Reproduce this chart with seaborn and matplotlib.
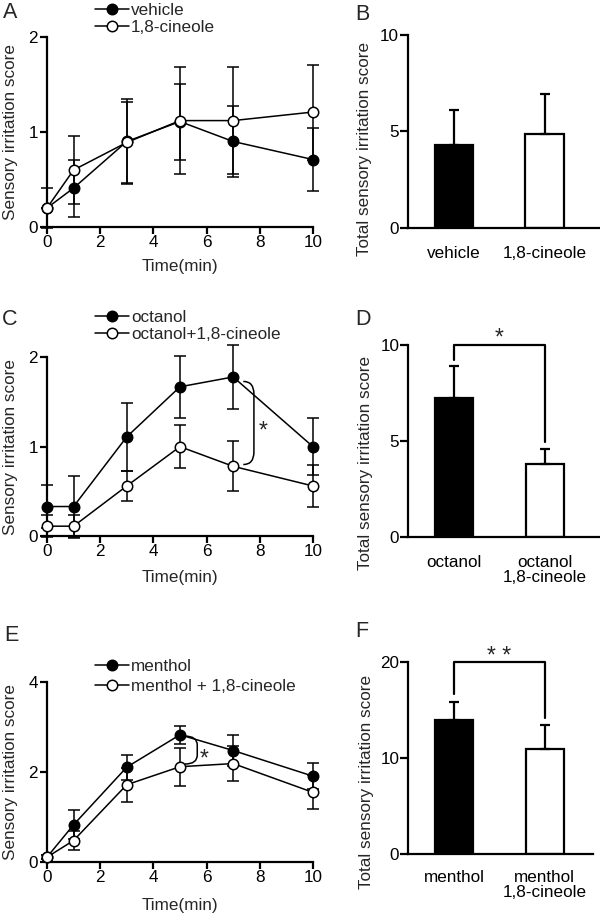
import numpy as np
import pandas as pd
import seaborn as sns
import matplotlib.pyplot as plt
from matplotlib.path import Path
from matplotlib.patches import PathPatch

sns.set_style('ticks')
plt.rcParams.update({'font.family': ['Liberation Sans', 'DejaVu Sans'],
                     'font.size': 12.3,
                     'axes.linewidth': 1.6,
                     'axes.edgecolor': 'black',
                     'xtick.major.width': 1.6, 'ytick.major.width': 1.6,
                     'xtick.major.size': 5, 'ytick.major.size': 5,
                     'xtick.color': 'black', 'ytick.color': 'black',
                     'xtick.labelsize': 12.3, 'ytick.labelsize': 12.3,
                     'axes.labelsize': 12.3})

# Time course (min)
time = [0, 1, 3, 5, 7, 10]

# A: vehicle vs 1,8-cineole
vehicle_mean = [0.2, 0.41, 0.9, 1.11, 0.9, 0.71]
vehicle_sem = [0.21, 0.3, 0.45, 0.4, 0.37, 0.33]
cineole_mean = [0.2, 0.6, 0.89, 1.12, 1.12, 1.21]
cineole_sem = [0.0, 0.36, 0.43, 0.56, 0.56, 0.5]

# C: octanol vs octanol+1,8-cineole
octanol_mean = [0.33, 0.33, 1.11, 1.67, 1.78, 1.0]
octanol_sem = [0.24, 0.34, 0.38, 0.35, 0.36, 0.32]
oct_cin_mean = [0.11, 0.11, 0.56, 1.0, 0.78, 0.56]
oct_cin_sem = [0.12, 0.13, 0.17, 0.24, 0.28, 0.24]

# E: menthol vs menthol + 1,8-cineole
menthol_mean = [0.1, 0.82, 2.1, 2.82, 2.47, 1.9]
menthol_sem = [0.05, 0.32, 0.28, 0.2, 0.35, 0.29]
men_cin_mean = [0.1, 0.47, 1.71, 2.11, 2.18, 1.54]
men_cin_sem = [0.05, 0.22, 0.38, 0.42, 0.38, 0.38]

# B, D, F: total scores
b_groups = ['vehicle', '1,8-cineole']
b_mean = [4.28, 4.88]
b_err = [1.82, 2.07]
d_groups = ['octanol', 'octanol\n1,8-cineole']
d_mean = [7.25, 3.78]
d_err = [1.65, 0.8]
f_groups = ['menthol', 'menthol\n1,8-cineole']
f_mean = [13.95, 10.95]
f_err = [1.9, 2.45]

fig = plt.figure(figsize=(6, 9.15), dpi=100)


def line_panel(ax, series, ymax, legend_top, spacing=0.1):
    for mean, sem, label, face in series:
        ax.errorbar(time, mean, yerr=sem, fmt='none', ecolor='black', elinewidth=1.1,
                    capsize=4.2, capthick=1.1, clip_on=False, zorder=2)
        sns.lineplot(x=time, y=mean, ax=ax, color='black', linewidth=1.1, marker='o',
                     markersize=7.5, markerfacecolor=face, markeredgecolor='black',
                     markeredgewidth=1.1, label=label, clip_on=False, zorder=3)
    ax.set_xlim(0, 10)
    ax.set_ylim(0, ymax)
    ax.set_xticks([0, 2, 4, 6, 8, 10])
    ax.set_yticks(np.arange(0, ymax + 1, ymax // 2))
    ax.tick_params(axis='x', pad=1)
    ax.tick_params(axis='y', pad=1.5)
    ax.set_xlabel('Time(min)')
    ax.set_ylabel('Sensory irritation score')
    ax.yaxis.set_label_coords(-0.108, 0.5)
    sns.despine(ax=ax)
    ax.legend(loc='upper left', bbox_to_anchor=(0.158, legend_top), bbox_transform=fig.transFigure,
              frameon=False, borderpad=0, borderaxespad=0, handlelength=2.0, handletextpad=0.12,
              labelspacing=spacing, fontsize=12.3)


def bar_panel(ax, groups, mean, err, ymax, xmax, label_y, pad):
    df = pd.DataFrame({'group': groups, 'score': mean})
    sns.barplot(data=df, x='group', y='score', hue='group', palette=['black', 'white'],
                edgecolor='black', linewidth=1.6, width=0.42, errorbar=None, legend=False, ax=ax)
    ax.errorbar(range(len(mean)), mean, yerr=[np.zeros(len(err)), err], fmt='none',
                ecolor='black', elinewidth=1.6, capsize=3.3, capthick=1.6, zorder=3)
    ax.set_xlim(-0.508, xmax)
    ax.set_ylim(0, ymax)
    ax.set_yticks([0, ymax / 2, ymax])
    ax.set_yticklabels([str(int(v)) for v in [0, ymax / 2, ymax]])
    ax.tick_params(axis='x', length=0, pad=pad)
    ax.tick_params(axis='y', pad=0.5, length=6)
    for t in ax.get_xticklabels():
        t.set_linespacing(1.0)
    ax.set_xlabel('')
    ax.set_ylabel('Total sensory irritation score')
    ax.yaxis.set_label_coords(-0.185, label_y)
    sns.despine(ax=ax)


def sig_bracket(ax, left, right, top, star, star_y):
    ax.plot([0, 0, 1, 1], [left, top, top, right], color='black', linewidth=1.6, clip_on=False)
    ax.text(0.5, star_y, star, ha='center', va='center', fontsize=16.5)


def curly(ax, x0, x1, ytop, ybot, r):
    verts = [(x0, ytop), (x1, ytop), (x1, ytop - r), (x1, ybot + r), (x1, ybot), (x0, ybot)]
    codes = [Path.MOVETO, Path.CURVE3, Path.CURVE3, Path.LINETO, Path.CURVE3, Path.CURVE3]
    ax.add_patch(PathPatch(Path(verts, codes), facecolor='none', edgecolor='black', linewidth=1.1, clip_on=False))


# A
axA = fig.add_axes([0.0783, 0.7519, 0.4433, 0.2077])
line_panel(axA, [(vehicle_mean, vehicle_sem, 'vehicle', 'black'),
                 (cineole_mean, cineole_sem, '1,8-cineole', 'white')], 2, 0.9967)
axA.xaxis.set_label_coords(0.5, -0.17)

# B
axB = fig.add_axes([0.68, 0.7508, 0.32, 0.211])
bar_panel(axB, b_groups, b_mean, b_err, 10, 1.613, 0.41, 13)

# C
axC = fig.add_axes([0.0783, 0.4142, 0.4433, 0.1953])
line_panel(axC, [(octanol_mean, octanol_sem, 'octanol', 'black'),
                 (oct_cin_mean, oct_cin_sem, 'octanol+1,8-cineole', 'white')], 2, 0.661)
axC.xaxis.set_label_coords(0.5, -0.19)
curly(axC, 7.38, 7.78, 1.73, 0.8, 0.14)
axC.text(8.13, 1.17, '*', ha='center', va='center', fontsize=16.5)

# D
axD = fig.add_axes([0.6805, 0.4134, 0.3195, 0.2095])
bar_panel(axD, d_groups, d_mean, d_err, 10, 1.613, 0.385, 13)
sig_bracket(axD, 9.2, 4.96, 10, '*', 10.37)

# E
axE = fig.add_axes([0.0783, 0.0583, 0.4433, 0.1967])
line_panel(axE, [(menthol_mean, menthol_sem, 'menthol', 'black'),
                 (men_cin_mean, men_cin_sem, 'menthol + 1,8-cineole', 'white')], 4, 0.2795, 0.3)
axE.xaxis.set_label_coords(0.5, -0.2)
curly(axE, 5.19, 5.65, 2.79, 2.17, 0.2)
axE.text(5.9, 2.28, '*', ha='center', va='center', fontsize=16.5)

# F
axF = fig.add_axes([0.6805, 0.0663, 0.3078, 0.2105])
bar_panel(axF, f_groups, f_mean, f_err, 20, 1.536, 0.375, 11)
sig_bracket(axF, 16.7, 14.2, 20, '* *', 20.55)

# panel letters
for letter, x, y in [('A', 10, 13), ('B', 362, 14.5), ('C', 10, 319.5),
                     ('D', 363, 319.5), ('E', 11, 635.5), ('F', 362, 631.5)]:
    fig.text(x / 600, 1 - y / 915, letter, ha='center', va='center', fontsize=15.5)

fig.savefig('out.png', dpi=100)
